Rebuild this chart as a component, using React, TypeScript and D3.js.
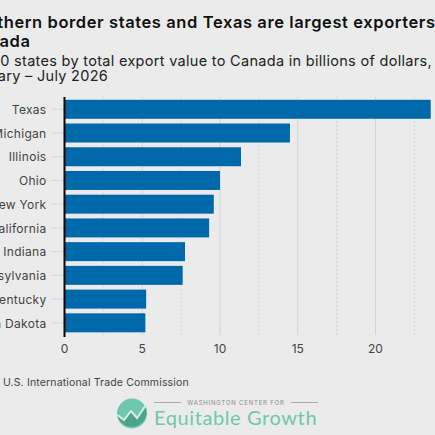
import React, { useEffect, useRef } from "react";
import * as d3 from "d3";

const states = ["Texas", "Michigan", "Illinois", "Ohio", "New York", "California", "Indiana", "Pennsylvania", "Kentucky", "North Dakota"];
const exportValues = [23.55, 14.5, 11.35, 10, 9.6, 9.3, 7.75, 7.6, 5.25, 5.2];
const majorTicks = [0, 5, 10, 15, 20];
const minorTicks = [2.5, 7.5, 12.5, 17.5, 22.5];
const titleLines = ["Northern border states and Texas are largest exporters to", "Canada"];
const subtitleLines = ["Top 10 states by total export value to Canada in billions of dollars,", "January – July 2026"];
const sourceText = "Source: U.S. International Trade Commission";

const FONT = "Inter, 'Open Sans', sans-serif";

export default function App() {
  const svgRef = useRef<SVGSVGElement>(null);

  useEffect(() => {
    document.body.style.margin = "0";
    const svg = d3.select(svgRef.current);
    svg.selectAll("*").remove();

    svg.append("rect").attr("width", 435).attr("height", 435).attr("fill", "#ebebeb");

    const x = d3.scaleLinear().domain([0, 20]).range([64.5, 375.5]);
    const y = d3.scaleBand().domain(states).range([96.3, 335.8]).paddingInner(0.2).paddingOuter(0.147);

    // titles run off the left edge like in the original
    svg.selectAll(".title").data(titleLines).join("text")
      .attr("class", "title")
      .attr("x", -34)
      .attr("y", (d, i) => 28 + i * 18.5)
      .attr("font-family", FONT)
      .attr("font-size", 16.5)
      .attr("font-weight", 600)
      .attr("letter-spacing", 0.6)
      .attr("fill", "#111")
      .text((d) => d);

    svg.selectAll(".subtitle").data(subtitleLines).join("text")
      .attr("class", "subtitle")
      .attr("x", -37)
      .attr("y", (d, i) => 65.5 + i * 15.5)
      .attr("font-family", FONT)
      .attr("font-size", 14.5)
      .attr("letter-spacing", 0.3)
      .attr("fill", "#222")
      .text((d) => d);

    // grid
    svg.selectAll(".minor").data(minorTicks).join("line")
      .attr("class", "minor")
      .attr("x1", (d) => x(d)).attr("x2", (d) => x(d))
      .attr("y1", 97).attr("y2", 335)
      .attr("stroke", "#d6d6d6").attr("stroke-dasharray", "2,2");

    svg.selectAll(".major").data(majorTicks).join("line")
      .attr("class", "major")
      .attr("x1", (d) => x(d)).attr("x2", (d) => x(d))
      .attr("y1", 97).attr("y2", 335)
      .attr("stroke", "#d2d2d2");

    // tick stubs and labels for the states
    const rows = svg.selectAll(".row").data(states).join("g").attr("class", "row");
    rows.append("line")
      .attr("x1", 51).attr("x2", 64)
      .attr("y1", (d) => y(d)! + y.bandwidth() / 2)
      .attr("y2", (d) => y(d)! + y.bandwidth() / 2)
      .attr("stroke", "#d6d6d6");
    rows.append("text")
      .attr("x", 46.5)
      .attr("y", (d) => y(d)! + y.bandwidth() / 2 + 0.5)
      .attr("dy", "0.35em")
      .attr("text-anchor", "end")
      .attr("font-family", FONT)
      .attr("font-size", 12)
      .attr("letter-spacing", 0.3)
      .attr("fill", "#444")
      .text((d) => d);

    svg.selectAll(".bar").data(exportValues).join("rect")
      .attr("class", "bar")
      .attr("x", x(0))
      .attr("y", (d, i) => y(states[i])!)
      .attr("width", (d) => x(d) - x(0))
      .attr("height", y.bandwidth())
      .attr("fill", "#0069aa");

    svg.append("line")
      .attr("x1", x(0)).attr("x2", x(0))
      .attr("y1", 97).attr("y2", 337)
      .attr("stroke", "#000").attr("stroke-width", 2);

    svg.selectAll(".xlabel").data(majorTicks).join("text")
      .attr("class", "xlabel")
      .attr("x", (d) => x(d))
      .attr("y", 353)
      .attr("text-anchor", "middle")
      .attr("font-family", FONT)
      .attr("font-size", 12)
      .attr("fill", "#444")
      .text((d) => d);

    svg.append("text")
      .attr("x", -39.5)
      .attr("y", 386)
      .attr("font-family", FONT)
      .attr("font-size", 10.5)
      .attr("letter-spacing", 0.16)
      .attr("fill", "#444")
      .text(sourceText);

    // logo
    const logo = svg.append("g");
    logo.append("circle").attr("cx", 132).attr("cy", 413.5).attr("r", 15).attr("fill", "#6fc7ae");
    logo.append("path")
      .attr("d", "M117.5 415 L124 420 L131 411 L137 418 L146 405 L146.5 414 A15 15 0 0 1 118 418 Z")
      .attr("fill", "#4ea48a");
    logo.append("path")
      .attr("d", "M117.5 415 L124 420 L131 411 L137 418 L146 405")
      .attr("fill", "none").attr("stroke", "#d5eee6").attr("stroke-width", 2);

    logo.selectAll(".rule").data([[154, 181], [291, 318]]).join("line")
      .attr("class", "rule")
      .attr("x1", (d) => d[0]).attr("x2", (d) => d[1])
      .attr("y1", 402.5).attr("y2", 402.5)
      .attr("stroke", "#aaa");
    logo.append("text")
      .attr("x", 236).attr("y", 405)
      .attr("text-anchor", "middle")
      .attr("font-family", FONT)
      .attr("font-size", 6)
      .attr("letter-spacing", 0.8)
      .attr("fill", "#8a8a8a")
      .text("WASHINGTON CENTER FOR");
    logo.append("text")
      .attr("x", 154).attr("y", 425)
      .attr("font-family", "Lato, sans-serif")
      .attr("font-size", 20)
      .attr("letter-spacing", 0.6)
      .attr("fill", "#6fc7ae")
      .text("Equitable Growth");
  }, []);

  return <svg ref={svgRef} width={435} height={435} style={{ display: "block" }} />;
}
